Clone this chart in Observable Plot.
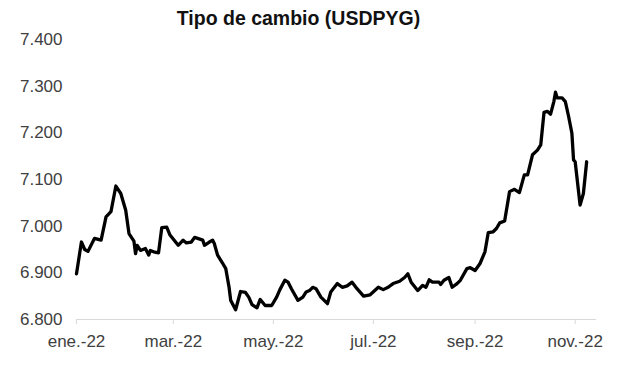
<!DOCTYPE html>
<html>
<head>
<meta charset="utf-8">
<script src="https://cdn.jsdelivr.net/npm/d3@7"></script>
<script src="https://cdn.jsdelivr.net/npm/@observablehq/plot@0.6"></script>
<style>
  html, body { margin: 0; padding: 0; background: #fff; }
  #title { width: 597px; padding-right: 20px; text-align: center;
    font-family: "Liberation Sans", Arial, sans-serif; font-weight: bold;
    font-size: 19.5px; line-height: 24px; padding-top: 6px; height: 23px; color: #111; overflow: hidden; }
</style>
</head>
<body>
<div id="title">Tipo de cambio (USDPYG)</div>
<div id="chart"></div>
<script>
const dates = [
  "2022-01-01","2022-01-04","2022-01-06","2022-01-08","2022-01-12","2022-01-16","2022-01-19","2022-01-22","2022-01-25","2022-01-28","2022-01-31",
  "2022-02-02","2022-02-05","2022-02-06","2022-02-07","2022-02-09","2022-02-12","2022-02-14","2022-02-15","2022-02-17","2022-02-20","2022-02-22","2022-02-25","2022-02-27",
  "2022-03-04","2022-03-07","2022-03-09","2022-03-12","2022-03-14","2022-03-19","2022-03-20","2022-03-23","2022-03-25","2022-03-26","2022-03-28","2022-03-31",
  "2022-04-02","2022-04-04","2022-04-05","2022-04-08","2022-04-11","2022-04-14","2022-04-16","2022-04-18","2022-04-21","2022-04-23","2022-04-26","2022-04-30",
  "2022-05-03","2022-05-05","2022-05-08","2022-05-10","2022-05-12","2022-05-16","2022-05-19","2022-05-21","2022-05-23","2022-05-25","2022-05-27","2022-05-30",
  "2022-06-03","2022-06-05","2022-06-09","2022-06-12","2022-06-15","2022-06-18","2022-06-21","2022-06-25","2022-06-29",
  "2022-07-04","2022-07-07","2022-07-10","2022-07-13","2022-07-17","2022-07-20","2022-07-22","2022-07-24","2022-07-28","2022-07-31",
  "2022-08-02","2022-08-04","2022-08-06","2022-08-10","2022-08-11","2022-08-13","2022-08-16","2022-08-18","2022-08-21","2022-08-23","2022-08-27","2022-08-29",
  "2022-09-01","2022-09-04","2022-09-07","2022-09-09","2022-09-12","2022-09-14","2022-09-16","2022-09-19","2022-09-22","2022-09-25","2022-09-28",
  "2022-10-01","2022-10-03","2022-10-06","2022-10-09","2022-10-11","2022-10-13","2022-10-15","2022-10-17","2022-10-19","2022-10-20","2022-10-21","2022-10-24","2022-10-26","2022-10-28","2022-10-30","2022-10-31",
  "2022-11-01","2022-11-04","2022-11-06","2022-11-08"
];
const values = [
  6898,6966,6950,6946,6974,6970,7020,7031,7086,7070,7034,
  6984,6968,6941,6959,6948,6952,6938,6948,6945,6943,6997,6998,6981,
  6959,6970,6964,6966,6976,6970,6959,6966,6970,6963,6938,6921,
  6909,6869,6841,6821,6860,6858,6848,6832,6825,6843,6830,6830,
  6848,6864,6884,6880,6866,6841,6848,6859,6862,6869,6866,6848,
  6834,6859,6877,6869,6872,6880,6866,6850,6853,
  6869,6864,6869,6877,6882,6890,6898,6880,6862,6873,
  6869,6885,6880,6880,6875,6884,6890,6869,6877,6884,6909,6911,
  6905,6920,6945,6986,6988,6995,7007,7011,7074,7079,7072,
  7110,7110,7153,7163,7174,7244,7246,7240,7267,7287,7275,7275,7267,7235,7199,7142,
  7138,7045,7070,7138
];
const xTickDates = ["2022-01-01","2022-03-01","2022-05-01","2022-07-01","2022-09-01","2022-11-01"];
const xTickLabels = ["ene.-22","mar.-22","may.-22","jul.-22","sep.-22","nov.-22"];
const yTicks = [6800, 6900, 7000, 7100, 7200, 7300, 7400];
const xDomain = ["2022-01-01", "2022-11-14"];

const data = dates.map((d, i) => ({date: new Date(d), value: values[i]}));
const tickDates = xTickDates.map(d => new Date(d));
const labelMap = new Map(tickDates.map((d, i) => [d.getTime(), xTickLabels[i]]));
const fmtY = d => d3.format(",")(d).replace(/,/g, ".");

const chart = Plot.plot({
  width: 617,
  height: 344,
  marginTop: 10,
  marginBottom: 54,
  marginLeft: 76,
  marginRight: 21,
  style: {fontFamily: "'Liberation Sans', Arial, sans-serif", fontSize: "17px", color: "#404040", background: "#fff"},
  x: {type: "utc", domain: xDomain.map(d => new Date(d))},
  y: {domain: [6800, 7400]},
  marks: [
    Plot.ruleY([6800], {stroke: "#d9d9d9", strokeWidth: 1.2}),
    Plot.axisY({ticks: yTicks, tickSize: 0, tickPadding: 14, tickFormat: fmtY, label: null}),
    Plot.axisX({ticks: tickDates, tickSize: 5, tickPadding: 10, stroke: "#d9d9d9", fill: "#404040",
      tickFormat: d => labelMap.get(d.getTime()), label: null}),
    Plot.line(data, {x: "date", y: "value", stroke: "#000", strokeWidth: 3.3, strokeLinejoin: "round", strokeLinecap: "round"})
  ]
});
document.getElementById("chart").appendChild(chart);
</script>
</body>
</html>
